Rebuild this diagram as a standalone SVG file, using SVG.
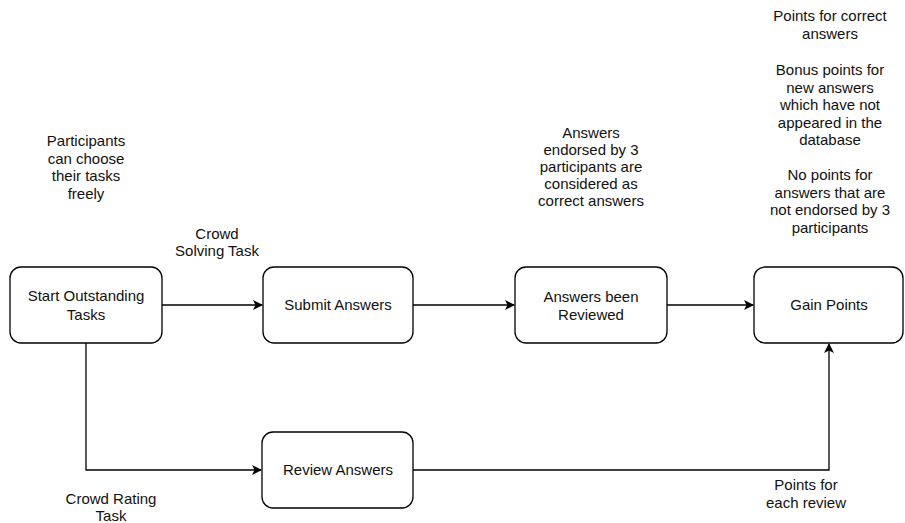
<svg xmlns="http://www.w3.org/2000/svg" width="905" height="523" viewBox="0 0 905 523">
<defs>
<marker id="arr" viewBox="0 0 10 10" refX="9" refY="5" markerWidth="10" markerHeight="10" markerUnits="userSpaceOnUse" orient="auto">
<path d="M0,0 L10,5 L0,10 L2.5,5 Z" fill="#000"/>
</marker>
</defs>
<style>
.box{fill:#fff;stroke:#000;stroke-width:1.3}
.edge{fill:none;stroke:#000;stroke-width:1.3}
text{font-family:"Liberation Sans",Arial,sans-serif;font-size:15px;fill:#111;text-anchor:middle}
</style>
<rect width="905" height="523" fill="#fff"/>
<g id="connectors">
<path class="edge" d="M162,305 H262" marker-end="url(#arr)"/>
<path class="edge" d="M413,305 H514" marker-end="url(#arr)"/>
<path class="edge" d="M667,305 H753" marker-end="url(#arr)"/>
<path class="edge" d="M86,343 V470 H261" marker-end="url(#arr)"/>
<path class="edge" d="M413,470 H829 V344" marker-end="url(#arr)"/>
</g>
<g id="start">
<rect class="box" x="10" y="267" width="152" height="76" rx="11"/>
<text x="86" y="301">Start Outstanding</text>
<text x="86" y="320">Tasks</text>
</g>
<g id="submit">
<rect class="box" x="263" y="267" width="150" height="76" rx="11"/>
<text x="338" y="310">Submit Answers</text>
</g>
<g id="reviewed">
<rect class="box" x="515" y="267" width="152" height="76" rx="11"/>
<text x="591" y="302">Answers been</text>
<text x="591" y="320">Reviewed</text>
</g>
<g id="gain">
<rect class="box" x="754" y="267" width="149" height="76" rx="11"/>
<text x="829" y="310">Gain Points</text>
</g>
<g id="review">
<rect class="box" x="262" y="432" width="151" height="76" rx="11"/>
<text x="338" y="475">Review Answers</text>
</g>
<g id="labels">
<text x="86" y="146">Participants</text>
<text x="86" y="163.5">can choose</text>
<text x="86" y="181">their tasks</text>
<text x="86" y="198.5">freely</text>
<text x="217" y="239">Crowd</text>
<text x="217" y="256">Solving Task</text>
<text x="591" y="138">Answers</text>
<text x="591" y="155">endorsed by 3</text>
<text x="591" y="172">participants are</text>
<text x="591" y="189">considered as</text>
<text x="591" y="206">correct answers</text>
<text x="830" y="21">Points for correct</text>
<text x="830" y="38.5">answers</text>
<text x="830" y="75">Bonus points for</text>
<text x="830" y="92.5">new answers</text>
<text x="830" y="110">which have not</text>
<text x="830" y="127.5">appeared in the</text>
<text x="830" y="145">database</text>
<text x="830" y="180">No points for</text>
<text x="830" y="197.5">answers that are</text>
<text x="830" y="215">not endorsed by 3</text>
<text x="830" y="232.5">participants</text>
<text x="111" y="504">Crowd Rating</text>
<text x="111" y="521">Task</text>
<text x="806" y="490">Points for</text>
<text x="806" y="507.5">each review</text>
</g>
</svg>
